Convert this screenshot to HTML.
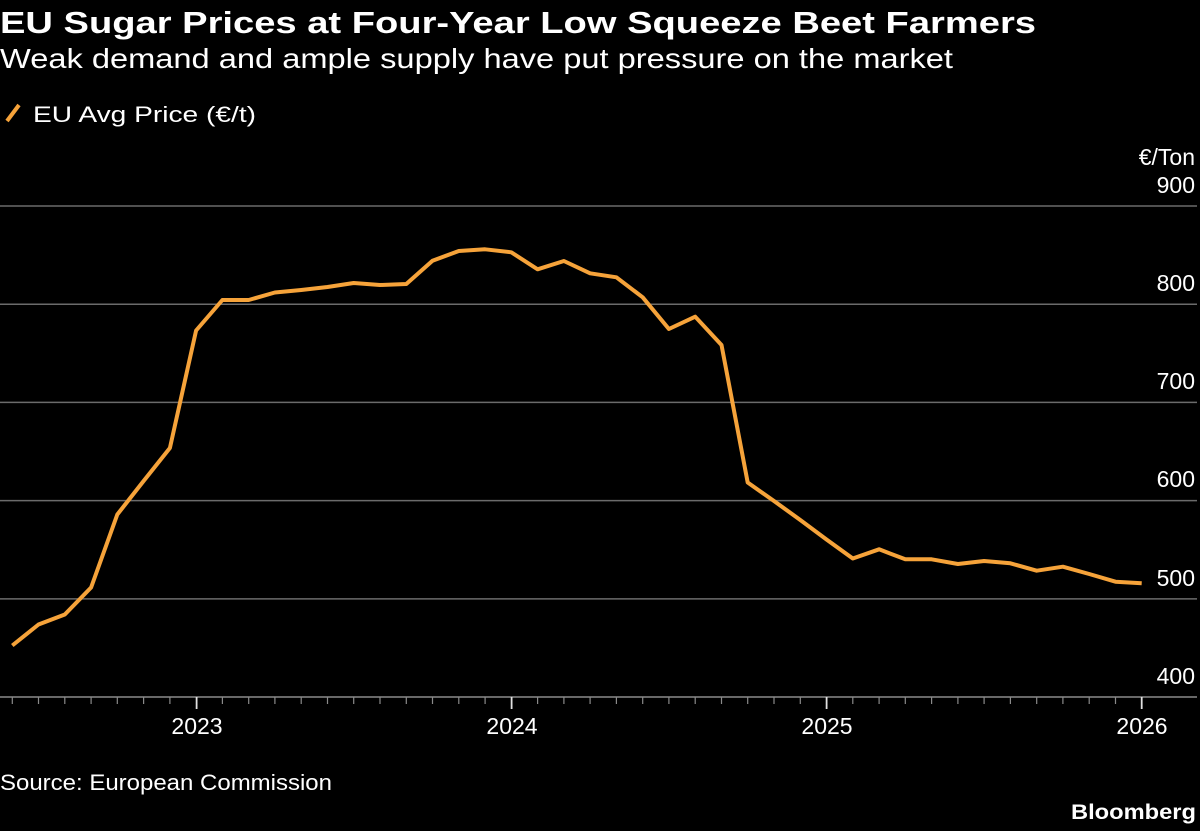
<!DOCTYPE html>
<html>
<head>
<meta charset="utf-8">
<style>
  html, body { margin:0; padding:0; background:#000; }
  body { width:1200px; height:831px; overflow:hidden; }
  svg { display:block; }
  text { font-family: "Liberation Sans", "DejaVu Sans", sans-serif; fill:#fff; }
</style>
</head>
<body>
<svg width="1200" height="831" viewBox="0 0 1200 831" xmlns="http://www.w3.org/2000/svg">
  <rect x="0" y="0" width="1200" height="831" fill="#000"/>

  <text x="0" y="33" font-size="31" font-weight="bold" textLength="1036" lengthAdjust="spacingAndGlyphs">EU Sugar Prices at Four-Year Low Squeeze Beet Farmers</text>
  <text x="0" y="68" font-size="28" textLength="953" lengthAdjust="spacingAndGlyphs">Weak demand and ample supply have put pressure on the market</text>

  <line x1="7" y1="121" x2="19" y2="105" stroke="#f6a33a" stroke-width="4"/>
  <text x="33" y="122" font-size="22" textLength="223" lengthAdjust="spacingAndGlyphs">EU Avg Price (€/t)</text>

  <text x="1195" y="165" font-size="23" text-anchor="end">€/Ton</text>

  <g stroke="#6b6b6b" stroke-width="1.5">
    <line x1="0" y1="206" x2="1197" y2="206"/>
    <line x1="0" y1="304.2" x2="1197" y2="304.2"/>
    <line x1="0" y1="402.4" x2="1197" y2="402.4"/>
    <line x1="0" y1="500.6" x2="1197" y2="500.6"/>
    <line x1="0" y1="598.9" x2="1197" y2="598.9"/>
  </g>

  <g font-size="23" text-anchor="end">
    <text x="1195" y="193">900</text>
    <text x="1195" y="291">800</text>
    <text x="1195" y="389">700</text>
    <text x="1195" y="487">600</text>
    <text x="1195" y="586">500</text>
    <text x="1195" y="684">400</text>
  </g>

  <line x1="0" y1="697" x2="1197" y2="697" stroke="#8a8a8a" stroke-width="1.5"/>
  <g stroke="#8a8a8a" stroke-width="1.2">
    <line x1="12.3" y1="697" x2="12.3" y2="704"/>
    <line x1="38.5" y1="697" x2="38.5" y2="704"/>
    <line x1="64.8" y1="697" x2="64.8" y2="704"/>
    <line x1="91.1" y1="697" x2="91.1" y2="704"/>
    <line x1="117.3" y1="697" x2="117.3" y2="704"/>
    <line x1="143.6" y1="697" x2="143.6" y2="704"/>
    <line x1="169.9" y1="697" x2="169.9" y2="704"/>
    <line x1="222.4" y1="697" x2="222.4" y2="704"/>
    <line x1="248.7" y1="697" x2="248.7" y2="704"/>
    <line x1="274.9" y1="697" x2="274.9" y2="704"/>
    <line x1="301.2" y1="697" x2="301.2" y2="704"/>
    <line x1="327.5" y1="697" x2="327.5" y2="704"/>
    <line x1="353.7" y1="697" x2="353.7" y2="704"/>
    <line x1="380" y1="697" x2="380" y2="704"/>
    <line x1="406.3" y1="697" x2="406.3" y2="704"/>
    <line x1="432.5" y1="697" x2="432.5" y2="704"/>
    <line x1="458.8" y1="697" x2="458.8" y2="704"/>
    <line x1="485.1" y1="697" x2="485.1" y2="704"/>
    <line x1="537.6" y1="697" x2="537.6" y2="704"/>
    <line x1="563.9" y1="697" x2="563.9" y2="704"/>
    <line x1="590.1" y1="697" x2="590.1" y2="704"/>
    <line x1="616.4" y1="697" x2="616.4" y2="704"/>
    <line x1="642.7" y1="697" x2="642.7" y2="704"/>
    <line x1="668.9" y1="697" x2="668.9" y2="704"/>
    <line x1="695.2" y1="697" x2="695.2" y2="704"/>
    <line x1="721.5" y1="697" x2="721.5" y2="704"/>
    <line x1="747.7" y1="697" x2="747.7" y2="704"/>
    <line x1="774" y1="697" x2="774" y2="704"/>
    <line x1="800.3" y1="697" x2="800.3" y2="704"/>
    <line x1="852.8" y1="697" x2="852.8" y2="704"/>
    <line x1="879.1" y1="697" x2="879.1" y2="704"/>
    <line x1="905.3" y1="697" x2="905.3" y2="704"/>
    <line x1="931.6" y1="697" x2="931.6" y2="704"/>
    <line x1="957.9" y1="697" x2="957.9" y2="704"/>
    <line x1="984.1" y1="697" x2="984.1" y2="704"/>
    <line x1="1010.4" y1="697" x2="1010.4" y2="704"/>
    <line x1="1036.7" y1="697" x2="1036.7" y2="704"/>
    <line x1="1062.9" y1="697" x2="1062.9" y2="704"/>
    <line x1="1089.2" y1="697" x2="1089.2" y2="704"/>
    <line x1="1115.5" y1="697" x2="1115.5" y2="704"/>
  </g>
  <g stroke="#e0e0e0" stroke-width="1.8">
    <line x1="196.6" y1="697" x2="196.6" y2="709"/>
    <line x1="511.6" y1="697" x2="511.6" y2="709"/>
    <line x1="826.6" y1="697" x2="826.6" y2="709"/>
    <line x1="1141.7" y1="697" x2="1141.7" y2="709"/>
  </g>
  <g font-size="23" text-anchor="middle">
    <text x="197" y="734">2023</text>
    <text x="512" y="734">2024</text>
    <text x="827" y="734">2025</text>
    <text x="1142" y="734">2026</text>
  </g>

  <polyline fill="none" stroke="#f6a33a" stroke-width="4" stroke-linejoin="round"
    points="12.3,645.5 38.5,624.5 64.8,614.5 91.1,587.5 117.3,514.5 143.6,481 169.9,448 196.1,330.5 222.4,300 248.7,300 274.9,292.5 301.2,290 327.5,287 353.7,283 380,285 406.3,284 432.5,260.7 458.8,251 485.1,249.3 511.3,252.3 537.6,269.3 563.9,261 590.1,273.3 616.4,277.3 642.7,297.3 668.9,329 695.2,316.7 721.5,345 747.7,482.5 774,501 800.3,520 826.5,539.5 852.8,558.5 879.1,549.3 905.3,559.3 931.6,559.3 957.9,564 984.1,561 1010.4,563.3 1036.7,570.7 1062.9,566.7 1089.2,574 1115.5,581.7 1141.7,583.3"/>

  <text x="0" y="790" font-size="22" textLength="332" lengthAdjust="spacingAndGlyphs">Source: European Commission</text>
  <text x="1196" y="819" font-size="21" font-weight="bold" text-anchor="end" textLength="125" lengthAdjust="spacingAndGlyphs">Bloomberg</text>
</svg>
</body>
</html>
